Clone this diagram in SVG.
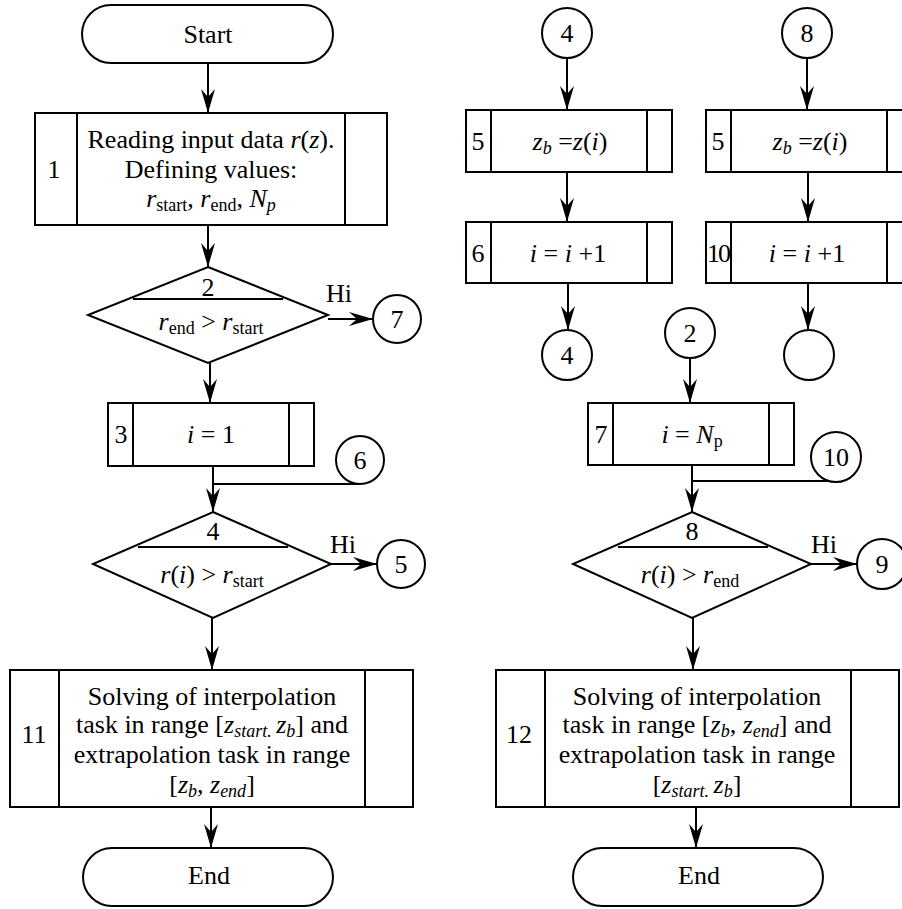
<svg xmlns="http://www.w3.org/2000/svg" width="902" height="909" viewBox="0 0 902 909" font-family="'Liberation Serif', 'DejaVu Serif', serif">
<defs>
<marker id="ah" viewBox="0 0 24 14" refX="24" refY="7" markerWidth="24" markerHeight="14" orient="auto" markerUnits="userSpaceOnUse">
<path d="M0,0 L24,7 L0,14 L8,7 Z" fill="#000"/>
</marker>
</defs>
<style>
.s{fill:#fff;stroke:#000;stroke-width:2}
.l{fill:none;stroke:#000;stroke-width:2}
.c{fill:none;stroke:#000;stroke-width:2;marker-end:url(#ah)}
text{font-family:'Liberation Serif','DejaVu Serif',serif;font-size:26px;fill:#000}
.m{text-anchor:middle}
.i{font-style:italic}
.sb{font-size:18px}
</style>
<rect width="902" height="909" fill="#fff"/>

<g id="connectors">
<line class="c" x1="208" y1="63" x2="208" y2="113"/>
<line class="c" x1="208" y1="225" x2="208" y2="267"/>
<line class="c" x1="328" y1="319" x2="373" y2="319"/>
<line class="c" x1="210" y1="363" x2="210" y2="403"/>
<line class="c" x1="213" y1="466" x2="213" y2="512"/>
<line class="l" x1="360" y1="484" x2="213" y2="484"/>
<line class="c" x1="331" y1="564" x2="377" y2="564"/>
<line class="c" x1="212" y1="618" x2="212" y2="670"/>
<line class="c" x1="211" y1="807" x2="211" y2="848"/>

<line class="c" x1="567" y1="58" x2="567" y2="110"/>
<line class="c" x1="567" y1="172" x2="567" y2="222"/>
<line class="c" x1="568" y1="283" x2="568" y2="330"/>
<line class="c" x1="807" y1="58" x2="807" y2="110"/>
<line class="c" x1="808" y1="172" x2="808" y2="222"/>
<line class="c" x1="808" y1="283" x2="808" y2="330"/>
<line class="c" x1="690" y1="358" x2="690" y2="403"/>
<line class="c" x1="692" y1="465" x2="692" y2="512"/>
<line class="l" x1="836" y1="481" x2="692" y2="481"/>
<line class="c" x1="811" y1="564" x2="857" y2="564"/>
<line class="c" x1="693" y1="618" x2="693" y2="670"/>
<line class="c" x1="696" y1="807" x2="696" y2="848"/>
</g>

<g id="start">
<rect class="s" x="82" y="5" width="251" height="58" rx="29"/>
<text class="m" x="208" y="43">Start</text>
</g>

<g id="box1">
<rect class="s" x="35" y="113" width="352" height="112"/>
<line class="l" x1="77" y1="113" x2="77" y2="225"/>
<line class="l" x1="345" y1="113" x2="345" y2="225"/>
<text class="m" x="54" y="178">1</text>
<text class="m" x="211" y="148">Reading input data <tspan class="i">r</tspan>(<tspan class="i">z</tspan>).</text>
<text class="m" x="211" y="178">Defining values:</text>
<text class="m" x="211" y="207"><tspan class="i">r</tspan><tspan class="sb" dy="4">start</tspan><tspan dy="-4">, </tspan><tspan class="i">r</tspan><tspan class="sb" dy="4">end</tspan><tspan dy="-4">, </tspan><tspan class="i">N</tspan><tspan class="sb i" dy="4">p</tspan></text>
</g>

<g id="dec2">
<polygon class="s" points="208,267 328,315 208,363 88,315"/>
<line class="l" x1="133" y1="299" x2="283" y2="299"/>
<text class="m" x="208" y="296">2</text>
<text class="m" x="211" y="330"><tspan class="i">r</tspan><tspan class="sb" dy="4">end</tspan><tspan dy="-4"> &gt; </tspan><tspan class="i">r</tspan><tspan class="sb" dy="4">start</tspan></text>
<text x="326" y="302">Hi</text>
</g>

<g id="conn7">
<circle class="s" cx="397" cy="319" r="24"/>
<text class="m" x="397" y="328">7</text>
</g>

<g id="box3">
<rect class="s" x="108" y="403" width="206" height="63"/>
<line class="l" x1="133" y1="403" x2="133" y2="466"/>
<line class="l" x1="289" y1="403" x2="289" y2="466"/>
<text class="m" x="121" y="443">3</text>
<text class="m" x="211" y="443"><tspan class="i">i</tspan> = 1</text>
</g>

<g id="conn6">
<circle class="s" cx="360" cy="460" r="24"/>
<text class="m" x="360" y="469">6</text>
</g>

<g id="dec4">
<polygon class="s" points="213,512 331,564 213,618 93,564"/>
<line class="l" x1="138" y1="547" x2="288" y2="547"/>
<text class="m" x="213" y="540">4</text>
<text class="m" x="212" y="583"><tspan class="i">r</tspan>(<tspan class="i">i</tspan>) &gt; <tspan class="i">r</tspan><tspan class="sb" dy="4">start</tspan></text>
<text x="330" y="553">Hi</text>
</g>

<g id="conn5">
<circle class="s" cx="401" cy="564" r="24"/>
<text class="m" x="401" y="573">5</text>
</g>

<g id="box11">
<rect class="s" x="10" y="670" width="403" height="137"/>
<line class="l" x1="59" y1="670" x2="59" y2="807"/>
<line class="l" x1="365" y1="670" x2="365" y2="807"/>
<text class="m" x="34" y="743">11</text>
<text class="m" x="212" y="705">Solving of interpolation</text>
<text class="m" x="212" y="733">task in range [<tspan class="i">z</tspan><tspan class="sb i" dy="4">start. </tspan><tspan class="i" dy="-4">z</tspan><tspan class="sb i" dy="4">b</tspan><tspan dy="-4">] and</tspan></text>
<text class="m" x="212" y="763">extrapolation task in range</text>
<text class="m" x="212" y="793">[<tspan class="i">z</tspan><tspan class="sb i" dy="4">b</tspan><tspan dy="-4">, </tspan><tspan class="i">z</tspan><tspan class="sb i" dy="4">end</tspan><tspan dy="-4">]</tspan></text>
</g>

<g id="end1">
<rect class="s" x="83" y="848" width="250" height="58" rx="29"/>
<text class="m" x="209" y="884">End</text>
</g>

<g id="conn4a">
<circle class="s" cx="567" cy="33" r="25"/>
<text class="m" x="567" y="42">4</text>
</g>

<g id="box5a">
<rect class="s" x="466" y="110" width="206" height="62"/>
<line class="l" x1="491" y1="110" x2="491" y2="172"/>
<line class="l" x1="647" y1="110" x2="647" y2="172"/>
<text class="m" x="478" y="150">5</text>
<text class="m" x="570" y="150"><tspan class="i">z</tspan><tspan class="sb i" dy="4">b</tspan><tspan dy="-4"> =</tspan><tspan class="i">z</tspan>(<tspan class="i">i</tspan>)</text>
</g>

<g id="box6">
<rect class="s" x="466" y="222" width="206" height="61"/>
<line class="l" x1="491" y1="222" x2="491" y2="283"/>
<line class="l" x1="647" y1="222" x2="647" y2="283"/>
<text class="m" x="478" y="262">6</text>
<text class="m" x="568" y="262"><tspan class="i">i</tspan> = <tspan class="i">i</tspan> +1</text>
</g>

<g id="conn4b">
<circle class="s" cx="567" cy="355" r="25"/>
<text class="m" x="567" y="364">4</text>
</g>

<g id="conn8">
<circle class="s" cx="807" cy="33" r="25"/>
<text class="m" x="807" y="42">8</text>
</g>

<g id="box5b">
<rect class="s" x="706" y="110" width="206" height="62"/>
<line class="l" x1="731" y1="110" x2="731" y2="172"/>
<line class="l" x1="887" y1="110" x2="887" y2="172"/>
<text class="m" x="718" y="150">5</text>
<text class="m" x="810" y="150"><tspan class="i">z</tspan><tspan class="sb i" dy="4">b</tspan><tspan dy="-4"> =</tspan><tspan class="i">z</tspan>(<tspan class="i">i</tspan>)</text>
</g>

<g id="box10">
<rect class="s" x="706" y="222" width="206" height="61"/>
<line class="l" x1="731" y1="222" x2="731" y2="283"/>
<line class="l" x1="887" y1="222" x2="887" y2="283"/>
<text class="m" x="718" y="262" style="letter-spacing:-2px">10</text>
<text class="m" x="807" y="262"><tspan class="i">i</tspan> = <tspan class="i">i</tspan> +1</text>
</g>

<g id="connEmpty">
<circle class="s" cx="809" cy="355" r="25"/>
</g>

<g id="conn2">
<circle class="s" cx="690" cy="333" r="25"/>
<text class="m" x="690" y="342">2</text>
</g>

<g id="box7">
<rect class="s" x="588" y="403" width="206" height="62"/>
<line class="l" x1="613" y1="403" x2="613" y2="465"/>
<line class="l" x1="769" y1="403" x2="769" y2="465"/>
<text class="m" x="601" y="443">7</text>
<text class="m" x="692" y="443"><tspan class="i">i</tspan> = <tspan class="i">N</tspan><tspan class="sb" dy="4">p</tspan></text>
</g>

<g id="conn10">
<circle class="s" cx="836" cy="457" r="25"/>
<text class="m" x="836" y="466">10</text>
</g>

<g id="dec8">
<polygon class="s" points="692,512 811,564 692,618 573,564"/>
<line class="l" x1="618" y1="547" x2="768" y2="547"/>
<text class="m" x="692" y="540">8</text>
<text class="m" x="690" y="583"><tspan class="i">r</tspan>(<tspan class="i">i</tspan>) &gt; <tspan class="i">r</tspan><tspan class="sb" dy="4">end</tspan></text>
<text x="811" y="553">Hi</text>
</g>

<g id="conn9">
<circle class="s" cx="882" cy="564" r="25"/>
<text class="m" x="882" y="573">9</text>
</g>

<g id="box12">
<rect class="s" x="496" y="670" width="403" height="137"/>
<line class="l" x1="545" y1="670" x2="545" y2="807"/>
<line class="l" x1="851" y1="670" x2="851" y2="807"/>
<text class="m" x="519" y="743">12</text>
<text class="m" x="697" y="705">Solving of interpolation</text>
<text class="m" x="697" y="733">task in range [<tspan class="i">z</tspan><tspan class="sb i" dy="4">b</tspan><tspan dy="-4">, </tspan><tspan class="i">z</tspan><tspan class="sb i" dy="4">end</tspan><tspan dy="-4">] and</tspan></text>
<text class="m" x="697" y="763">extrapolation task in range</text>
<text class="m" x="697" y="793">[<tspan class="i">z</tspan><tspan class="sb i" dy="4">start. </tspan><tspan class="i" dy="-4">z</tspan><tspan class="sb i" dy="4">b</tspan><tspan dy="-4">]</tspan></text>
</g>

<g id="end2">
<rect class="s" x="573" y="848" width="250" height="58" rx="29"/>
<text class="m" x="699" y="884">End</text>
</g>
</svg>
